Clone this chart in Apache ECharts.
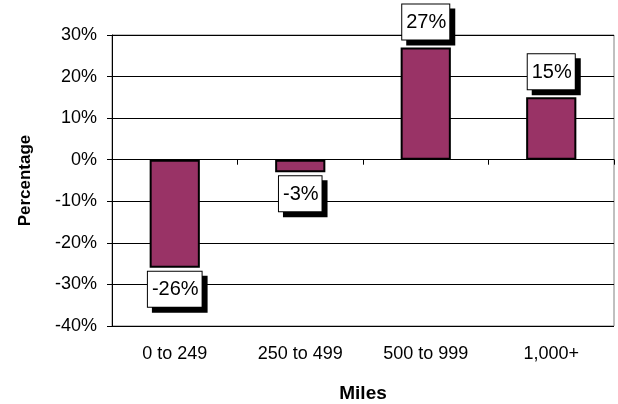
<!DOCTYPE html>
<html>
<head>
<meta charset="utf-8">
<script src="https://cdn.jsdelivr.net/npm/echarts@6/dist/echarts.min.js"></script>
<style>
  html, body { margin: 0; padding: 0; background: #ffffff; }
  #chart { width: 618px; height: 404px; }
</style>
</head>
<body>
<div id="chart"></div>
<script>
// Change in share by trip distance band
const categories = ['0 to 249', '250 to 499', '500 to 999', '1,000+'];
const changePct = [-26, -3, 27, 15];
const yTicks = { min: -40, max: 30, interval: 10 };

const FONT = '"Liberation Sans", Arial, sans-serif';

const chart = echarts.init(document.getElementById('chart'), null, { renderer: 'canvas' });

const barData = changePct.map(v => ({
  value: v,
  label: {
    position: v >= 0 ? 'top' : 'bottom',
    distance: v >= 0 ? 8 : 4
  }
}));

chart.setOption({
  animation: false,
  backgroundColor: '#ffffff',
  textStyle: { fontFamily: FONT, color: '#000' },
  grid: {
    left: 112, right: 4, top: 35, bottom: 78,
    containLabel: false,
    outerBoundsMode: 'none',
    show: true, borderColor: '#808080', borderWidth: 1,
    backgroundColor: 'transparent'
  },
  xAxis: [
    {
      // zero line with boundary ticks
      type: 'category',
      data: categories,
      position: 'bottom',
      axisLine: { onZero: true, lineStyle: { color: '#000', width: 1 } },
      axisTick: { show: true, length: 5, lineStyle: { color: '#000' } },
      axisLabel: { show: false },
      splitLine: { show: false }
    },
    {
      // category labels along the bottom edge
      type: 'category',
      data: categories,
      position: 'bottom',
      axisLine: { show: false, onZero: false },
      axisTick: { show: false },
      axisLabel: { show: true, margin: 19, fontSize: 18, color: '#000', fontFamily: FONT },
      name: 'Miles',
      nameLocation: 'middle',
      nameGap: 58,
      nameTextStyle: { fontSize: 19, fontWeight: 'bold', color: '#000', fontFamily: FONT }
    }
  ],
  yAxis: {
    type: 'value',
    min: yTicks.min,
    max: yTicks.max,
    interval: yTicks.interval,
    axisLine: { show: true, lineStyle: { color: '#000', width: 1 } },
    axisTick: { show: true, length: 5, lineStyle: { color: '#000' } },
    axisLabel: {
      margin: 15, fontSize: 18, color: '#000', fontFamily: FONT,
      formatter: v => v + '%'
    },
    splitLine: { show: true, lineStyle: { color: '#000', width: 1 } },
    name: 'Percentage',
    nameLocation: 'middle',
    nameGap: 78,
    nameTextStyle: { fontSize: 17, fontWeight: 'bold', color: '#000', fontFamily: FONT }
  },
  series: [{
    type: 'bar',
    xAxisIndex: 0,
    data: barData,
    barWidth: '40%',
    itemStyle: { color: '#993366', borderColor: '#000', borderWidth: 2 },
    label: {
      show: true,
      formatter: p => p.value + '%',
      fontSize: 20,
      fontFamily: FONT,
      color: '#000',
      backgroundColor: '#ffffff',
      borderColor: '#000',
      borderWidth: 1,
      padding: [8, 3, 7, 4],
      shadowColor: '#000',
      shadowBlur: 0,
      shadowOffsetX: 5,
      shadowOffsetY: 5
    }
  }]
});
</script>
</body>
</html>
